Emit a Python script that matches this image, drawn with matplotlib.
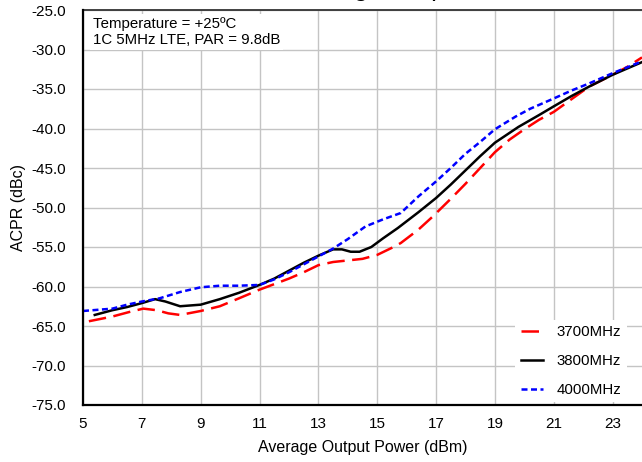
import matplotlib
matplotlib.use("Agg")
import matplotlib.pyplot as plt

plt.rcParams['font.family'] = ['Liberation Sans', 'DejaVu Sans']

# ACPR vs. average output power, one curve per carrier frequency
x_3700 = [5.2, 6.0, 6.6, 7.05, 7.5, 7.9, 8.3, 9.0, 9.65, 10.3, 11.0, 11.5, 12.0, 12.5, 13.0,
          13.5, 14.0, 14.5, 15.0, 15.5, 15.8, 16.4, 16.9, 17.5, 18.0, 18.5, 19.0, 19.5, 20.0,
          20.5, 21.0, 21.6, 22.2, 23.0, 23.5, 24.0]
acpr_3700 = [-64.4, -63.8, -63.2, -62.8, -63.0, -63.4, -63.6, -63.1, -62.5, -61.5, -60.4,
             -59.7, -59.0, -58.2, -57.3, -56.9, -56.7, -56.5, -56.0, -55.1, -54.5, -52.8,
             -51.1, -48.9, -47.0, -45.0, -43.0, -41.4, -40.1, -38.9, -37.9, -36.3, -34.7,
             -33.2, -32.2, -31.0]

x_3800 = [5.4, 6.0, 6.5, 7.0, 7.45, 7.8, 8.3, 9.0, 9.65, 10.3, 11.0, 11.5, 12.0, 12.5,
          13.0, 13.5, 13.8, 14.1, 14.4, 14.8, 15.2, 15.7, 16.4, 17.0, 17.5, 18.0, 18.5,
          19.0, 19.8, 20.5, 21.0, 21.6, 22.2, 23.0, 24.0]
acpr_3800 = [-63.6, -63.0, -62.6, -62.1, -61.6, -61.9, -62.5, -62.3, -61.6, -60.8, -59.8,
             -59.0, -58.0, -57.0, -56.1, -55.3, -55.3, -55.6, -55.6, -55.0, -53.9, -52.6,
             -50.6, -48.8, -47.1, -45.3, -43.5, -41.8, -39.8, -38.3, -37.2, -35.9, -34.7,
             -33.2, -31.6]

x_4000 = [5.0, 6.0, 6.5, 7.0, 7.6, 8.3, 9.0, 9.65, 10.3, 11.0, 11.5, 12.0, 12.5, 13.0,
          13.5, 14.0, 14.6, 15.2, 15.8, 16.4, 17.0, 17.5, 18.0, 18.5, 19.0, 19.7, 20.2,
          21.0, 21.6, 22.2, 23.0, 24.0]
acpr_4000 = [-63.1, -62.8, -62.3, -61.9, -61.5, -60.7, -60.1, -59.9, -59.9, -59.8, -59.1,
             -58.2, -57.2, -56.2, -55.2, -54.0, -52.4, -51.5, -50.7, -48.6, -46.7, -45.0,
             -43.2, -41.7, -40.1, -38.5, -37.5, -36.2, -35.2, -34.3, -33.0, -31.5]

series_labels = ['3700MHz', '3800MHz', '4000MHz']
x_ticks = [5, 7, 9, 11, 13, 15, 17, 19, 21, 23]
y_ticks = [-75, -70, -65, -60, -55, -50, -45, -40, -35, -30, -25]

fig = plt.figure(figsize=(6.42, 4.62), dpi=100)
ax = fig.add_axes([83 / 642, 57 / 462, 1 - 83 / 642, (405 - 10) / 462])

ax.plot(x_3700, acpr_3700, color='#ff0000', lw=1.8, dashes=(7, 3), label=series_labels[0], zorder=3)
ax.plot(x_3800, acpr_3800, color='black', lw=1.8, label=series_labels[1], zorder=4)
ax.plot(x_4000, acpr_4000, color='#0000ff', lw=1.8, dashes=(2.4, 1.4), label=series_labels[2], zorder=5)

ax.set_xlim(5, 24)
ax.set_ylim(-75, -25)
ax.set_xticks(x_ticks)
ax.set_yticks(y_ticks)
ax.set_yticklabels([f'{v:.1f}' for v in y_ticks])
ax.grid(True, color='#c4c4c4', lw=1.0)
ax.set_axisbelow(True)
ax.tick_params(length=0, labelsize=11)
ax.tick_params(axis='y', pad=12)
ax.tick_params(axis='x', pad=9)

for side in ('left', 'bottom'):
    ax.spines[side].set_linewidth(1.6)
    ax.spines[side].set_color('black')
    ax.spines[side].set_zorder(7)
ax.spines['top'].set_linewidth(1.3)
ax.spines['top'].set_color('#333333')
ax.spines['right'].set_visible(False)

ax.set_xlabel('Average Output Power (dBm)', fontsize=11.5, labelpad=6)
ax.set_ylabel('ACPR (dBc)', fontsize=11.5, labelpad=4)

ax.text(0.018, 0.982, 'Temperature = +25ºC\n1C 5MHz LTE, PAR = 9.8dB', transform=ax.transAxes,
        fontsize=10.8, va='top', ha='left', linespacing=1.15,
        bbox=dict(facecolor='white', edgecolor='none', pad=2), zorder=6)

leg = ax.legend(loc='center', bbox_to_anchor=(0.873, 0.112), frameon=True, fontsize=10.8,
                handlelength=1.5, handletextpad=0.9, labelspacing=1.0, borderpad=0.35)
leg.get_frame().set_edgecolor('none')
leg.get_frame().set_facecolor('white')
leg.get_frame().set_alpha(1.0)

fig.text(359 / 642, 1.009, 'ACPR vs. Average Output Power', ha='center', va='baseline', fontsize=18.5)

fig.savefig('out.png', dpi=100)
